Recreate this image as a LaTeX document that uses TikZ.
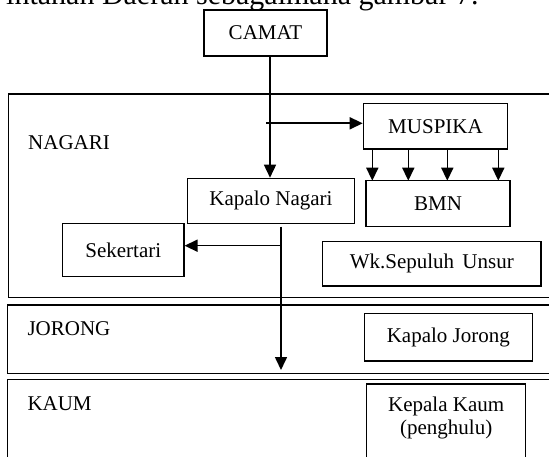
\documentclass[tikz,border=0pt]{standalone}
\usepackage{fontspec}
\setmainfont{Liberation Serif}
\usetikzlibrary{arrows.meta}
\begin{document}
\begin{tikzpicture}[x=1pt,y=-1pt,
  box/.style={draw, line width=1.2pt, inner sep=0pt, font=\fontsize{21}{23.7}\selectfont, align=center},
  frame/.style={draw, line width=1.4pt},
  lbl/.style={anchor=west, inner sep=0pt, font=\fontsize{21}{23.7}\selectfont},
  arr/.style={-{Triangle[length=13pt,width=12pt]}, line width=1.6pt},
  ln/.style={line width=1.6pt}]
\useasboundingbox (0,0) rectangle (549,457);
\clip (0,0) rectangle (549,457);
% title (clipped at top)
\node[anchor=base west, inner sep=0pt, font=\fontsize{30}{33}\selectfont] (title) at (6,4.5) {intahan Daerah sebagaimana gambar 7.};
% level frames
\draw[frame] (8.3,94) rectangle (570,297.5);
\draw[frame] (7.3,305) rectangle (570,373.5);
\draw[frame] (7.3,379.5) rectangle (570,480);
\node[lbl] (nagari) at (28,143) {NAGARI};
\node[lbl] (jorong) at (27.3,329) {JORONG};
\node[lbl] (kaum) at (27.3,404) {KAUM};
% boxes
\node[box, minimum width=123pt, minimum height=46pt] (camat) at (265.5,33) {CAMAT};
\node[box, minimum width=144.4pt, minimum height=45.7pt] (muspika) at (435.5,126.2) {MUSPIKA};
\node[box, minimum width=144pt, minimum height=46pt] (bmn) at (438,203.7) {BMN};
\node[box, minimum width=166.6pt, minimum height=45pt] (kn) at (271,200.8) {Kapalo Nagari};
\node[box, minimum width=121.3pt, minimum height=53.4pt] (sek) at (123.3,250) {Sekertari};
\node[box, minimum width=218.3pt, minimum height=44.3pt] (wk) at (431.8,263.8) {Wk.Sepuluh\hspace{3pt} Unsur};
\node[box, minimum width=168pt, minimum height=47.7pt] (kj) at (448.3,337.2) {Kapalo Jorong};
\node[box, anchor=north, minimum width=159pt, minimum height=100pt] (kk) at (446.2,383.3) {};
\node[inner sep=0pt, font=\fontsize{21}{23.7}\selectfont, align=center] (kktext) at (446.2,418) {Kepala Kaum\\(penghulu)};
% connectors
\coordinate (camatb) at (270,56);
\coordinate (br1) at (266,123.3);
\coordinate (knbot) at (281,226.7);
\coordinate (br2) at (281,245.7);
\coordinate (tipj) at (281,370);
\draw[arr] (camatb) -- (camatb |- kn.north);
\draw[arr] (br1) -- (muspika.west |- br1);
\foreach \xx in {372.3,408.3,447.3,498.3}{
  \draw[arr] (\xx,149) -- (\xx,180.7);
}
\draw[arr] (knbot) -- (tipj);
\draw[arr] (br2) -- (sek.east |- br2);
\end{tikzpicture}
\end{document}
